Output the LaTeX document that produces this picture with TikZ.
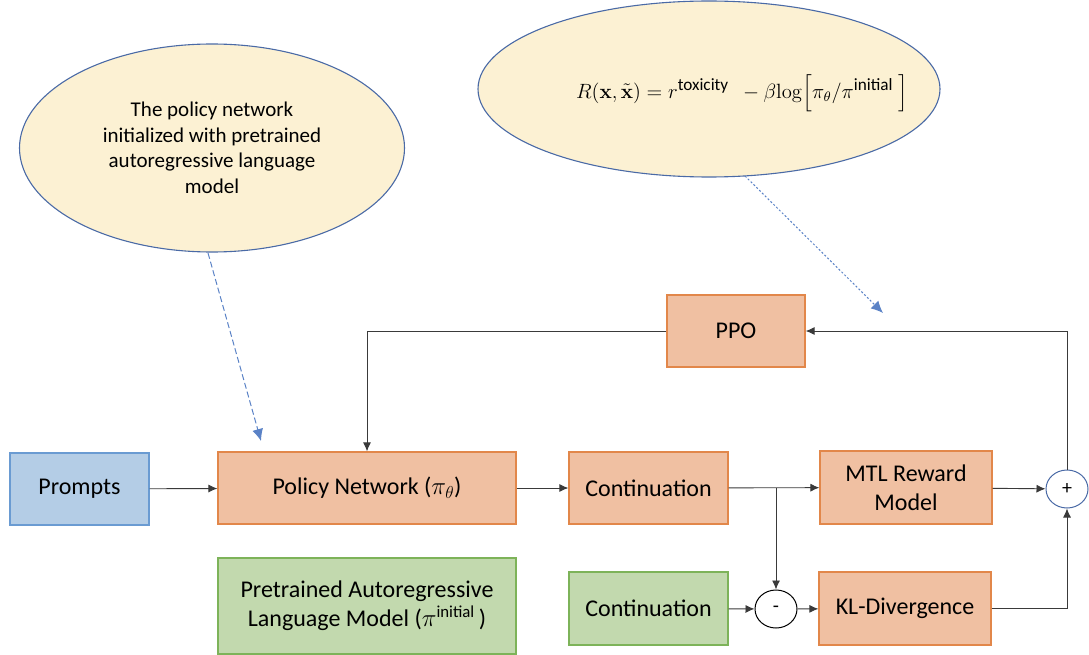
\documentclass[tikz,border=0pt]{standalone}
\usepackage{amsmath}
\usepackage[no-math]{fontspec}
\setmainfont{Carlito}
\usetikzlibrary{arrows.meta,shapes.geometric}
\definecolor{orfill}{HTML}{F0C0A2}
\definecolor{ordraw}{HTML}{E2874A}
\definecolor{grfill}{HTML}{C2D9AE}
\definecolor{grdraw}{HTML}{7DB359}
\definecolor{blfill}{HTML}{B4CDE6}
\definecolor{bldraw}{HTML}{6A9BD2}
\definecolor{elfill}{HTML}{FCF1D3}
\definecolor{eldraw}{HTML}{4A6AA6}
\definecolor{arr}{HTML}{3A3A3A}
\definecolor{hint}{HTML}{5A82C6}
\newcommand{\supt}[1]{\text{\fontsize{10}{12}\selectfont #1}}
\tikzset{
  box/.style={draw, line width=1.2pt, inner sep=0pt, align=center,
    font=\fontsize{24}{29}\selectfont},
  obox/.style={box, fill=orfill, draw=ordraw},
  gbox/.style={box, fill=grfill, draw=grdraw},
  bbox/.style={box, fill=blfill, draw=bldraw},
  bubble/.style={ellipse, draw=eldraw, fill=elfill, line width=1.1pt, inner sep=0pt, align=center},
  opcirc/.style={ellipse, draw, fill=white, line width=1pt, inner sep=0pt,
    minimum width=42pt, minimum height=38pt, font=\fontsize{20}{22}\selectfont},
  conn/.style={draw=arr, line width=0.9pt, -{Latex[length=9pt,width=8pt]}},
  hintarrow/.style={draw=hint, line width=1pt, -{Latex[length=12pt,width=11pt]}}
}
\begin{document}
\begin{tikzpicture}[x=1pt,y=-1pt]
\useasboundingbox (0,0) rectangle (1089,655);
% bubbles
\node[bubble, minimum width=385pt, minimum height=208pt, font=\fontsize{21}{25.5}\selectfont] (bub1) at (212,148)
  {The policy network\\initialized with pretrained\\autoregressive language\\model};
\node[bubble, minimum width=462pt, minimum height=176pt] (bub2) at (709,89) {};
\node[font=\fontsize{12}{14}\selectfont, scale=1.72] (formula) at (742,93)
  {$R(\mathbf{x},\tilde{\mathbf{x}}) = r^{\supt{toxicity}}\ \ - \beta\mathrm{log}\Bigl[\pi_\theta/\pi^{\supt{initial}}\ \Bigr]$};
% boxes
\node[bbox, minimum width=139pt, minimum height=72pt] (prompts) at (79.5,489) {Prompts};
\node[obox, minimum width=298pt, minimum height=72pt] (policy) at (367,488) {Policy Network ($\pi_\theta$)};
\node[obox, minimum width=159pt, minimum height=72pt] (cont1) at (648.5,488) {Continuation};
\node[obox, minimum width=172pt, minimum height=73pt] (mtl) at (906,487.5) {MTL Reward\\Model};
\node[obox, minimum width=138pt, minimum height=72pt] (ppo) at (736,331) {PPO};
\node[gbox, minimum width=298pt, minimum height=96pt] (pre) at (367,606) {Pretrained Autoregressive\\Language Model ($\pi^{\text{initial}}$\,)};
\node[gbox, minimum width=159pt, minimum height=73pt] (cont2) at (648.5,608.5) {Continuation};
\node[obox, minimum width=172pt, minimum height=73pt] (kl) at (905,608.5) {KL-Divergence};
\node[opcirc] (minus) at (776,609) {-};
\node[opcirc, draw=eldraw] (plus) at (1067,489) {+};
\coordinate (br) at (776,488);
% connectors
\draw[conn] (prompts) -- (policy);
\draw[conn] (policy) -- (cont1);
\draw[conn] (cont1) -- (mtl);
\draw[conn] (br) -- (minus.north);
\draw[conn] (cont2) -- (minus);
\draw[conn] (minus) -- (kl);
\draw[conn] (mtl) -- (plus);
\draw[conn] (kl.east) -| (plus.south);
\draw[conn] (plus.north) |- (ppo.east);
\draw[conn] (ppo.west) -| (policy.north);
% hint arrows
\coordinate (h1s) at (208,253);
\coordinate (h1e) at (261,441);
\coordinate (h2s) at (745,176);
\coordinate (h2e) at (883,313);
\draw[hintarrow, dash pattern=on 6pt off 3pt] (h1s) -- (h1e);
\draw[hintarrow, dash pattern=on 2pt off 2pt] (h2s) -- (h2e);
\end{tikzpicture}
\end{document}
